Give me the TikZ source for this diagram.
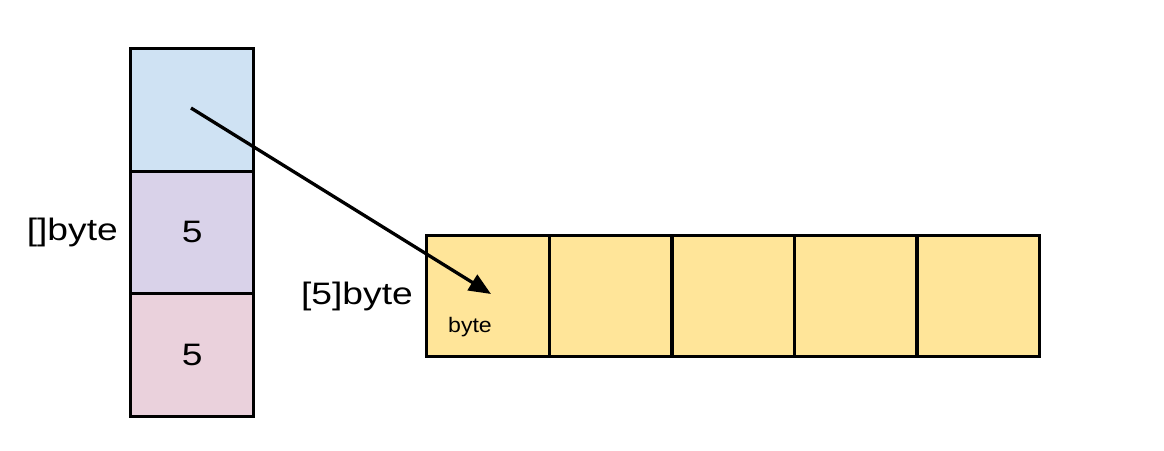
\documentclass[tikz,border=0pt]{standalone}
\usepackage{fontspec}
\setmainfont{Liberation Sans}[FakeStretch=1.2]
\newfontfamily\smallfont{Liberation Sans}[FakeStretch=1.1]
\usetikzlibrary{arrows.meta}
\definecolor{ptrblue}{HTML}{CFE2F3}
\definecolor{lenpurple}{HTML}{D9D2E9}
\definecolor{cappink}{HTML}{EAD1DC}
\definecolor{arryellow}{HTML}{FFE599}
\begin{document}
\begin{tikzpicture}[x=1pt,y=-1pt,
  cell/.style={draw=black, line width=3.3pt, inner sep=0pt, anchor=north west,
    minimum width=123pt, minimum height=122.5pt,
    font=\fontsize{31}{36}\selectfont},
  label/.style={inner sep=0pt, anchor=east, font=\fontsize{31}{36}\selectfont},
  small/.style={inner sep=0pt, font=\smallfont\fontsize{21}{24}\selectfont}]
  \useasboundingbox (0,0) rectangle (1164,450);
  % slice header: pointer, length, capacity
  \node[cell, fill=ptrblue]   (ptr) at (129,47) {};
  \node[cell, fill=lenpurple] (len) at (129,169.5) {5};
  \node[cell, fill=cappink]   (cap) at (129,292) {5};
  \node[label] (slicelbl) at (118,232) {[]byte};
  % backing array of five bytes
  \foreach \i in {0,...,4} {
    \node[cell, fill=arryellow, minimum width=122.6pt, minimum height=121pt]
      (a\i) at ({425+122.6*\i},234) {};
  }
  \node[label] (arrlbl) at (413,296) {[5]byte};
  \node[small] (elem) at (470,327) {byte};
  % pointer arrow
  \coordinate (from) at (191,108);
  \coordinate (to) at (491,294);
  \draw[line width=3.3pt, -{Triangle[length=22pt,width=18pt]}] (from) -- (to);
\end{tikzpicture}
\end{document}
